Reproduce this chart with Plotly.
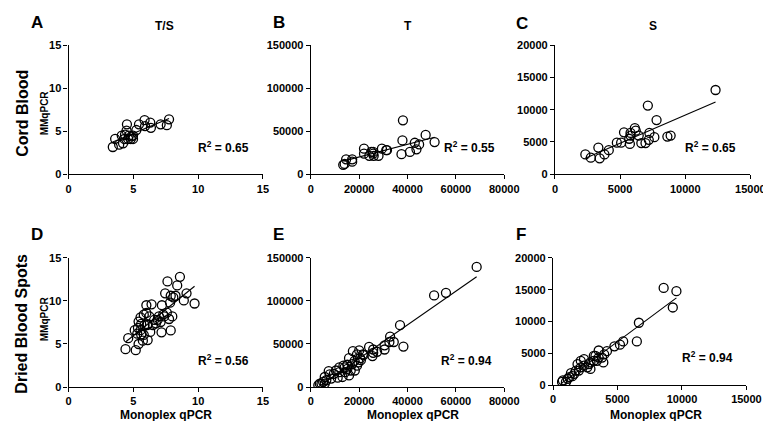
import numpy as np
import plotly.graph_objects as go

W, H = 771, 421

# ---------------- data ----------------
a_x = [3.41, 3.59, 3.9, 4.2, 4.1, 4.35, 4.47, 4.5, 4.65, 4.85, 4.97, 4.8, 5.23, 5.43, 5.86, 5.9, 6.3, 6.35, 7.1, 7.58, 7.75, 4.3, 4.6, 4.97]
a_y = [3.17, 4.12, 3.44, 3.6, 4.5, 4.6, 5.06, 5.8, 4.5, 4.4, 4.1, 4.1, 5.14, 5.8, 6.3, 5.6, 6.0, 5.4, 5.8, 5.7, 6.38, 4.1, 4.1, 4.5]

b_x = [13400, 14000, 14600, 17100, 17100, 22000, 22000, 24200, 25000, 25800, 26000, 28000, 29400, 31200, 31500, 25800, 38100, 37900, 37500, 41000, 43000, 43700, 44800, 47500, 51200]
b_y = [11000, 12000, 17400, 17400, 14700, 29800, 24000, 21500, 26000, 26000, 21500, 21500, 29800, 28000, 28000, 24000, 62700, 39300, 23400, 26000, 36600, 29000, 34700, 45700, 37400]

c_x = [2330, 2750, 3330, 3430, 3800, 4130, 4750, 5080, 5300, 5700, 5750, 5800, 5800, 6130, 6200, 6430, 6630, 6950, 7130, 7200, 7250, 7630, 7800, 8630, 8880, 12330]
c_y = [3070, 2570, 4130, 2470, 3070, 3730, 4890, 4890, 6500, 5500, 4700, 6000, 6400, 7150, 6750, 6000, 4840, 4840, 10630, 5340, 6400, 5740, 8400, 5840, 5990, 13050]

d_x = [4.39, 4.6, 5.18, 5.4, 5.35, 5.4, 5.6, 5.73, 5.8, 6.0, 6.0, 6.06, 6.1, 6.3, 6.4, 6.5, 6.6, 6.74, 7.1, 7.17, 7.2, 7.37, 7.45, 7.58, 7.63, 7.75, 7.83, 7.88, 7.88, 8.0, 8.08, 8.25, 8.38, 8.59, 8.89, 9.1, 9.72,
       5.6, 5.86, 6.1, 5.1, 5.3, 5.55, 5.8, 6.23, 6.97, 6.87, 7.3, 5.55]
d_y = [4.4, 5.68, 4.28, 5.0, 6.88, 7.6, 6.1, 5.38, 8.4, 8.6, 9.5, 7.2, 5.45, 6.4, 9.6, 7.2, 7.8, 7.4, 7.55, 6.35, 9.5, 8.2, 10.88, 8.65, 12.26, 7.9, 9.8, 10.6, 6.57, 8.2, 10.4, 10.6, 11.8, 12.8, 10.06, 10.88, 9.7,
       7.33, 7.2, 7.3, 6.6, 6.2, 6.6, 6.05, 8.2, 8.2, 7.8, 8.4, 8.1]

e_x = [68600, 55900, 51000, 36900, 38300, 32800, 34300, 32500, 30500, 30500, 27400, 25800, 25500, 24100, 20000, 17400, 15800, 19100, 21500, 18100, 17100, 15100, 16500, 18200, 13500, 11800, 13100, 11100, 11800, 7400, 7800, 5750, 5100, 3700, 3100, 5750, 6400, 9500, 14000, 15100, 19700, 20400, 21800, 20700, 14200, 10400, 8400, 4400, 19100, 15800, 25800]
e_y = [139500, 109400, 106400, 71800, 47000, 58600, 52300, 52300, 48500, 43600, 41000, 43600, 36000, 46600, 42500, 41700, 33500, 38000, 38000, 30500, 26700, 25900, 19200, 19200, 24800, 22900, 11700, 10900, 17300, 18400, 14700, 11700, 6000, 4100, 2300, 4100, 7900, 15400, 22900, 21000, 28600, 33500, 37200, 31200, 17300, 19200, 9800, 4100, 24800, 13500, 39800]

f_x = [8580, 9570, 9290, 6660, 6500, 5440, 5190, 4760, 4180, 3970, 3540, 3540, 3290, 3160, 2900, 2400, 2150, 2150, 1900, 1770, 1390, 1270, 760, 700, 2660, 2900, 1500, 2400, 3400, 3800, 2000, 1000, 1140, 1650, 2780, 3160, 3900]
f_y = [15270, 14760, 12200, 9800, 6870, 6870, 6360, 6100, 5340, 4830, 5440, 4330, 4580, 3820, 3560, 4070, 3820, 2800, 3300, 2290, 1880, 1270, 760, 500, 2800, 2540, 1400, 3050, 3820, 4330, 2290, 500, 1000, 1780, 3300, 4580, 3560]

r2_labels = ["0.65", "0.55", "0.65", "0.56", "0.94", "0.94"]
col_titles = ["T/S", "T", "S"]
row_titles = ["Cord Blood", "Dried Blood Spots"]
panel_letters = ["A", "B", "C", "D", "E", "F"]

# ---------------- layout geometry (pixels) ----------------
panels = [
    dict(x=a_x, y=a_y, xd=(59, 258), yd=(32, 165), xr=15, yr=15, xt=5, yt=5),
    dict(x=b_x, y=b_y, xd=(307, 505), yd=(32, 165), xr=80000, yr=150000, xt=20000, yt=50000),
    dict(x=c_x, y=c_y, xd=(557, 757), yd=(32, 165), xr=15000, yr=20000, xt=5000, yt=5000),
    dict(x=d_x, y=d_y, xd=(59, 258), yd=(251, 384), xr=15, yr=15, xt=5, yt=5),
    dict(x=e_x, y=e_y, xd=(307, 505), yd=(251, 384), xr=80000, yr=150000, xt=20000, yt=50000),
    dict(x=f_x, y=f_y, xd=(555, 753), yd=(251, 382), xr=15000, yr=20000, xt=5000, yt=5000),
]
r2_pos = [(218, 137), (469, 137), (716, 137), (218, 356), (466, 356), (713, 353)]
letter_pos = [(27, 9), (274, 9), (523, 10), (27, 227), (274, 227), (522, 227)]
title_pos = [(157, 12), (406, 12), (657, 12)]

FONT = "Liberation Sans, Arial, Helvetica, sans-serif"

def px(x):
    return x / W

def py(y):
    return 1 - y / H

fig = go.Figure()
layout = dict(
    width=W, height=H, margin=dict(l=0, r=0, t=0, b=0),
    paper_bgcolor="white", plot_bgcolor="white", showlegend=False,
    font=dict(family=FONT, color="black"),
)
annotations = []

def bold(size):
    return dict(family=FONT, size=size, color="black", weight="bold")

for i, p in enumerate(panels):
    n = "" if i == 0 else str(i + 1)
    xa, ya = "x" + n, "y" + n
    fig.add_trace(go.Scatter(
        x=p["x"], y=p["y"], mode="markers", xaxis=xa, yaxis=ya,
        marker=dict(symbol="circle-open", size=9, color="black", line=dict(width=1.3)),
    ))
    xs = np.array(p["x"], dtype=float)
    ys = np.array(p["y"], dtype=float)
    k, b0 = np.polyfit(xs, ys, 1)
    lx = [xs.min(), xs.max()]
    fig.add_trace(go.Scatter(
        x=lx, y=[k * v + b0 for v in lx], mode="lines", xaxis=xa, yaxis=ya,
        line=dict(color="black", width=1.1),
    ))
    common = dict(
        showgrid=False, zeroline=False, showline=True, linecolor="black", linewidth=1.3,
        ticks="outside", ticklen=4, tickwidth=1.3, tickcolor="black",
        tickfont=bold(11), tickformat="d",
    )
    layout["xaxis" + n] = dict(
        domain=[px(p["xd"][0]), px(p["xd"][1])], range=[0, p["xr"]],
        tickmode="linear", tick0=0, dtick=p["xt"], anchor=ya, **common,
    )
    layout["yaxis" + n] = dict(
        domain=[py(p["yd"][1]), py(p["yd"][0])], range=[0, p["yr"]],
        tickmode="linear", tick0=0, dtick=p["yt"], anchor=xa, **common,
    )
    annotations.append(dict(
        x=px(r2_pos[i][0]), y=py(r2_pos[i][1]), xref="paper", yref="paper",
        text="R<sup>2</sup> = " + r2_labels[i], showarrow=False,
        font=bold(12), xanchor="center", yanchor="middle",
    ))
    annotations.append(dict(
        x=px(letter_pos[i][0]), y=py(letter_pos[i][1]), xref="paper", yref="paper",
        text=panel_letters[i], showarrow=False,
        font=bold(17), xanchor="center", yanchor="middle",
    ))

for t, (x, y) in zip(col_titles, title_pos):
    annotations.append(dict(
        x=px(x), y=py(y), xref="paper", yref="paper", text=t, showarrow=False,
        font=bold(12), xanchor="center", yanchor="middle",
    ))

for t, y in zip(row_titles, [102, 319]):
    annotations.append(dict(
        x=px(11), y=py(y), xref="paper", yref="paper", text=t, showarrow=False,
        textangle=-90, font=bold(16), xanchor="center", yanchor="middle",
    ))

for y in [102, 314]:
    annotations.append(dict(
        x=px(34), y=py(y), xref="paper", yref="paper", text="MMqPCR", showarrow=False,
        textangle=-90, font=bold(10), xanchor="center", yanchor="middle",
    ))

for x in [159, 412, 660]:
    annotations.append(dict(
        x=px(x), y=py(413), xref="paper", yref="paper", text="Monoplex qPCR", showarrow=False,
        font=bold(12), xanchor="center", yanchor="middle",
    ))

layout["annotations"] = annotations
fig.update_layout(**layout)
fig.write_html("out.html")
